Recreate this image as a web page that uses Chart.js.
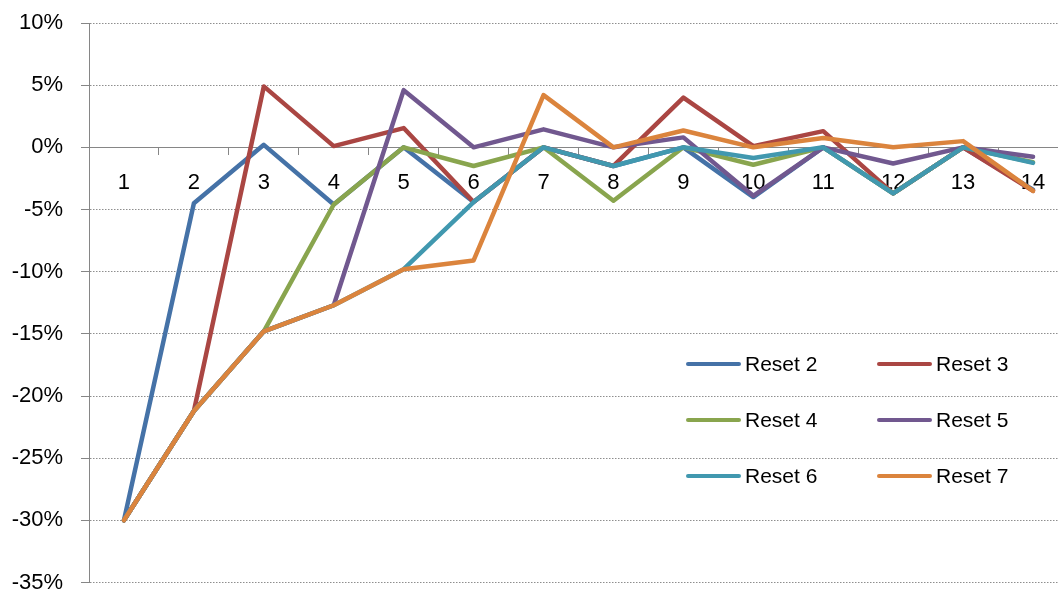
<!DOCTYPE html>
<html>
<head>
<meta charset="utf-8">
<script src="https://cdn.jsdelivr.net/npm/chart.js@4"></script>
<style>
html,body{margin:0;padding:0;overflow:hidden;background:#fff;width:1058px;height:591px;}
#wrap{position:relative;width:1058px;height:591px;overflow:hidden;}
canvas{position:absolute;left:0;top:0;}
.lg{position:absolute;font-family:'Liberation Sans',Arial,sans-serif;font-size:21px;color:#000;line-height:24px;height:24px;white-space:nowrap;}
.lg i{position:absolute;left:0;top:10px;width:55px;height:4px;border-radius:2px;}
.lg span{position:absolute;left:59px;top:0;}
</style>
</head>
<body>
<div id="wrap">
  <canvas id="c" width="1068" height="591"></canvas>
  <div id="legend"></div>
</div>
<script>
// ---- data ----
const categories = ['1','2','3','4','5','6','7','8','9','10','11','12','13','14'];
const seriesNames = ['Reset 2','Reset 3','Reset 4','Reset 5','Reset 6','Reset 7'];
const reset2 = [-30, -4.5,  0.2,  -4.6,  0.0, -4.4, 0.0, -1.5, 0.0, -4.0, 0.0, -3.7, 0.0, -3.4];
const reset3 = [-30, -21.2, 4.9,   0.1,  1.55,-4.4, 0.0, -1.5, 4.0,  0.1, 1.3, -3.7, 0.0, -3.5];
const reset4 = [-30, -21.2, -14.8, -4.6, 0.0, -1.5, 0.0, -4.3, 0.0, -1.4, 0.0, -3.7, 0.0, -1.2];
const reset5 = [-30, -21.2, -14.8, -12.7, 4.6, 0.0, 1.45, 0.0, 0.8, -3.9, 0.0, -1.3, 0.0, -0.75];
const reset6 = [-30, -21.2, -14.8, -12.7, -9.8, -4.4, 0.0, -1.5, 0.0, -0.85, 0.0, -3.7, 0.0, -1.25];
const reset7 = [-30, -21.2, -14.8, -12.7, -9.8, -9.1, 4.2, 0.0, 1.35, 0.0, 0.75, 0.0, 0.5, -3.5];
const yMin = -35, yMax = 10, yStep = 5;

// ---- styles ----
const colors = ['#4572A7','#AA4643','#89A54E','#71588F','#4198AF','#DB843D'];
const seriesData = [reset2, reset3, reset4, reset5, reset6, reset7];

Chart.defaults.font.family = "'Liberation Sans', Arial, sans-serif";

const datasets = seriesNames.map((name, i) => ({
  label: name,
  data: seriesData[i],
  borderColor: colors[i],
  backgroundColor: colors[i],
  borderWidth: 4.5,
  pointRadius: 0,
  pointHoverRadius: 0,
  tension: 0,
  fill: false,
  borderJoinStyle: 'round',
  borderCapStyle: 'round',
  order: seriesNames.length - i
}));

new Chart(document.getElementById('c'), {
  type: 'line',
  data: { labels: categories, datasets },
  options: {
    responsive: false,
    animation: false,
    events: [],
    layout: { padding: { top: 23, bottom: 8.5, left: 0, right: 0 } },
    plugins: { legend: { display: false }, tooltip: { enabled: false } },
    scales: {
      x: {
        type: 'category',
        offset: true,
        position: { y: 0 },
        grid: { display: true, drawOnChartArea: false, drawTicks: true, tickLength: 7,
                color: '#868686', tickColor: '#868686', offset: true, lineWidth: 1 },
        border: { display: true, color: '#868686', width: 1 },
        ticks: { color: '#000', font: { size: 22 }, padding: 15, maxRotation: 0, autoSkip: false }
      },
      y: {
        min: yMin, max: yMax,
        ticks: { stepSize: yStep, callback: v => v + '%', color: '#000', font: { size: 22 }, padding: 18 },
        grid: { color: '#8e8e8e', tickColor: '#868686', tickLength: 8, tickBorderDash: [], lineWidth: 1 },
        border: { display: true, color: '#868686', width: 1, dash: [1.5, 1.5] },
        afterFit: s => { s.width = 89; s.paddingTop = 0; s.paddingBottom = 0; }
      }
    }
  }
});

// ---- legend (HTML, inside plot area) ----
const legendCols = [686, 877];
const legendRows = [352, 408, 464];
const legend = document.getElementById('legend');
seriesNames.forEach((name, i) => {
  const d = document.createElement('div');
  d.className = 'lg';
  d.style.left = legendCols[i % 2] + 'px';
  d.style.top = legendRows[Math.floor(i / 2)] + 'px';
  const sw = document.createElement('i');
  sw.style.background = colors[i];
  const t = document.createElement('span');
  t.textContent = name;
  d.appendChild(sw); d.appendChild(t);
  legend.appendChild(d);
});
</script>
</body>
</html>
